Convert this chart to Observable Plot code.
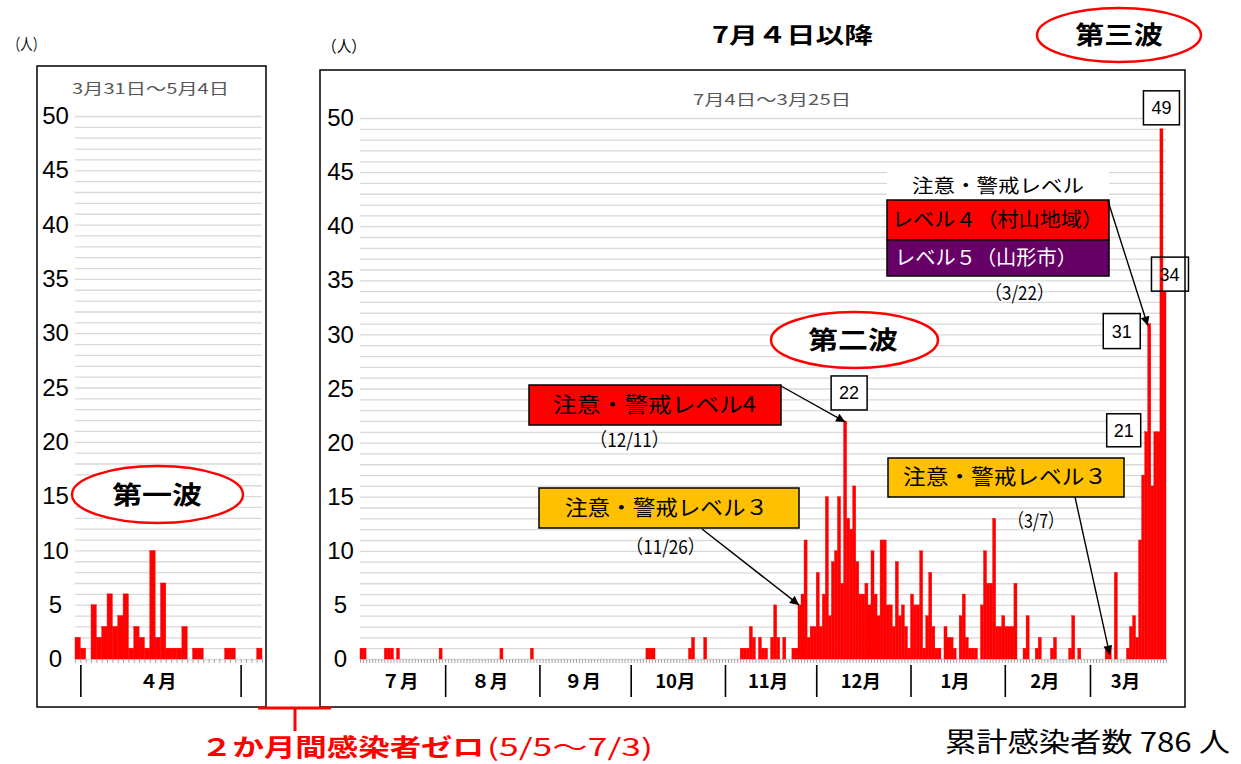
<!DOCTYPE html>
<html><head><meta charset="utf-8">
<script src="https://cdn.jsdelivr.net/npm/d3@7"></script>
<script src="https://cdn.jsdelivr.net/npm/@observablehq/plot@0.6"></script>
<style>
body{margin:0;background:#fff;}
#wrap{position:relative;width:1241px;height:764px;overflow:hidden;background:#fff;font-family:"Noto Sans CJK JP","Noto Sans",sans-serif;}
.panel{position:absolute;}
#overlay{position:absolute;left:0;top:0;}
</style></head><body><div id="wrap"></div>
<script>
// ---------- DATA ----------
// First wave: daily cases 3/31 - 5/4 (2020)
const wave1Start = "2020-03-31";
const wave1Values = [2,1,0,5,2,3,6,3,4,6,1,3,2,1,10,2,7,1,1,1,3,0,1,1,0,0,0,0,1,1,0,0,0,0,1];
const wave1MonthBounds = ["2020-04-01","2020-05-01"];
const wave1MonthLabels = [{label:"４月", from:"2020-04-01", to:"2020-05-01"}];

// Since 7/4: daily cases by month
const julValues = [1,1,0,0,0,0,0,0,1,1,1,0,1,0,0,0,0,0,0,0,0,0,0,0,0,0,1,0];           // 7/4-7/31
const augValues = [0,0,0,0,0,0,0,0,0,0,0,0,0,0,0,0,0,0,1,0,0,0,0,0,0,0,0,0,1,0,0];       // 8/1-8/31
const sepValues = [0,0,0,0,0,0,0,0,0,0,0,0,0,0,0,0,0,0,0,0,0,0,0,0,0,0,0,0,0,0];         // 9/1-9/30
const octValues = [0,0,0,0,0,1,1,1,0,0,0,0,0,0,0,0,0,0,0,1,2,0,0,0,2,0,0,0,0,0,0];       // 10/1-10/31
const novValues = [0,0,0,0,0,1,1,1,3,2,0,2,1,1,0,2,5,2,0,2,0,0,1,1,5,6,11,2,3,3];        // 11/1-11/30
const decValues = [8,3,6,15,4,9,10,15,7,22,13,12,16,9,6,6,7,5,10,6,4,11,11,5,5,3,9,4,5,3,1]; // 12/1-12/31
const janValues = [6,5,5,10,1,4,8,3,1,1,0,3,2,2,1,0,4,6,2,1,1,1,0,5,10,7,7,13,3,3,4];    // 1/1-1/31
const febValues = [3,3,3,7,0,0,1,4,0,0,1,2,0,0,0,1,2,0,0,0,0,1,4,0,1,0,0,0];            // 2/1-2/28
const marValues = [0,0,0,0,0,1,1,0,8,0,0,0,1,3,4,2,11,17,21,31,16,21,21,49,34];         // 3/1-3/25

const monthStarts = ["2020-07-04","2020-08-01","2020-09-01","2020-10-01","2020-11-01","2020-12-01","2021-01-01","2021-02-01","2021-03-01"];
const monthLabels = ["７月","８月","９月","10月","11月","12月","1月","2月","3月"];
const periodEnd = "2021-03-26";

const yTicks = [0,5,10,15,20,25,30,35,40,45,50];
const totalText = "累計感染者数 786 人";

// ---------- helpers ----------
const D = s => new Date(s + "T00:00:00Z");
const series = (start, values) => values.map((v, i) => ({date: d3.utcDay.offset(D(start), i), value: v}));

const wave1Data = series(wave1Start, wave1Values);
const monthValues = [julValues,augValues,sepValues,octValues,novValues,decValues,janValues,febValues,marValues];
const periodData = monthValues.flatMap((vals, i) => series(monthStarts[i], vals));

const monthSegs = monthStarts.map((s, i) => ({
  label: monthLabels[i],
  mid: new Date((+D(s) + +D(i < monthStarts.length - 1 ? monthStarts[i+1] : periodEnd)) / 2)
}));
const periodBounds = monthStarts.slice(1).map(D);
const wave1Segs = wave1MonthLabels.map(m => ({label: m.label, mid: new Date((+D(m.from) + +D(m.to)) / 2)}));

const numFont = '"Liberation Sans", Arial, sans-serif';
const jpFont = '"Noto Sans CJK JP", sans-serif';

function panel({data, start, end, bounds, segs, width, height, margins}) {
  const days = d3.utcDay.range(D(start), d3.utcDay.offset(D(end), 1));
  return Plot.plot({
    width, height,
    marginLeft: margins[0], marginRight: margins[1], marginTop: margins[2], marginBottom: margins[3],
    style: {background: "none", overflow: "visible", fontFamily: numFont},
    x: {type: "utc", domain: [D(start), D(end)], label: null},
    y: {domain: [0, 50], label: null},
    marks: [
      Plot.gridY(d3.range(0, 51, 1), {stroke: "#d9d9d9", strokeOpacity: 1, strokeWidth: 1.3}),
      Plot.rectY(data, {x: "date", y: "value", interval: "day", fill: "#ff0000", stroke: "#ff0000", strokeWidth: 0.4, inset: 0}),
      Plot.axisY(yTicks, {tickSize: 0, tickPadding: 20, textAnchor: "middle", fontSize: 24, fill: "#000", label: null, fontFamily: numFont}),
      Plot.axisX(days, {tickSize: 4, tickFormat: () => "", stroke: "#a6a6a6", label: null}),
      Plot.axisX(bounds, {tickSize: 32, dy: 6, tickFormat: () => "", stroke: "#000", strokeWidth: 1.6, label: null}),
      Plot.text(segs, {x: "mid", text: "label", frameAnchor: "bottom", dy: 28, dx: -3, fontSize: 18.5, fontWeight: "bold", fontFamily: jpFont, fill: "#000"})
    ]
  });
}

const leftChart = panel({data: wave1Data, start: "2020-03-31", end: "2020-05-05", bounds: wave1MonthBounds.map(D), segs: wave1Segs,
  width: 229, height: 641, margins: [38, 4, 50, 48]});
const rightChart = panel({data: periodData, start: "2020-07-04", end: periodEnd, bounds: periodBounds, segs: monthSegs,
  width: 865, height: 637, margins: [40, 19, 48, 48]});

const wrap = document.getElementById("wrap");
const L = [37, 66], R = [320, 70];
leftChart.classList.add("panel"); leftChart.style.left = L[0] + "px"; leftChart.style.top = L[1] + "px";
rightChart.classList.add("panel"); rightChart.style.left = R[0] + "px"; rightChart.style.top = R[1] + "px";
wrap.appendChild(leftChart); wrap.appendChild(rightChart);

// positions from the right panel's scales
const xs = rightChart.scale("x"), ys = rightChart.scale("y");
const X = d => R[0] + xs.apply(d);
const Xc = s => X(new Date(+D(s) + 12 * 3600e3));
const Y = v => R[1] + ys.apply(v);
const val = s => periodData.find(d => +d.date === +D(s)).value;

// ---------- overlay ----------
const svg = d3.select(wrap).append("svg").attr("id", "overlay").attr("width", 1241).attr("height", 764);
svg.append("defs").append("marker").attr("id", "ah").attr("viewBox", "0 0 10 10").attr("refX", 10).attr("refY", 5)
  .attr("markerWidth", 11).attr("markerHeight", 9).attr("markerUnits", "userSpaceOnUse").attr("orient", "auto")
  .append("path").attr("d", "M0,0 L10,5 L0,10 z").attr("fill", "#000");

// frames
svg.append("rect").attr("x", L[0]).attr("y", L[1]).attr("width", 229).attr("height", 641).attr("fill", "none").attr("stroke", "#000").attr("stroke-width", 1.5);
svg.append("rect").attr("x", R[0]).attr("y", R[1]).attr("width", 865).attr("height", 637).attr("fill", "none").attr("stroke", "#000").attr("stroke-width", 1.5);

function T(str, x, y, {size = 16, weight = "normal", fill = "#000", width = null, family = jpFont} = {}) {
  const t = svg.append("text").attr("x", x).attr("y", y).text(str)
    .attr("font-size", size).attr("font-weight", weight).attr("fill", fill).attr("font-family", family);
  if (width) t.attr("textLength", width).attr("lengthAdjust", "spacingAndGlyphs");
  return t;
}
function box(x, y, w, h, fill) {
  svg.append("rect").attr("x", x).attr("y", y).attr("width", w).attr("height", h).attr("fill", fill).attr("stroke", "#000").attr("stroke-width", 1.5);
}
function ellipse(cx, cy, rx, ry) {
  svg.append("ellipse").attr("cx", cx).attr("cy", cy).attr("rx", rx).attr("ry", ry).attr("fill", "#fff").attr("stroke", "#ff0000").attr("stroke-width", 2.5);
}
function arrow(x1, y1, x2, y2) {
  svg.append("line").attr("x1", x1).attr("y1", y1).attr("x2", x2).attr("y2", y2).attr("stroke", "#000").attr("stroke-width", 1.4).attr("marker-end", "url(#ah)");
}
function valueBox(str, cx, top, w = 36, h = 34, fill = "#fff") {
  svg.append("rect").attr("x", cx - w / 2).attr("y", top).attr("width", w).attr("height", h).attr("fill", fill).attr("stroke", "#000").attr("stroke-width", 1.5);
  T(str, cx, top + h / 2 + 6.5, {size: 18, family: numFont}).attr("text-anchor", "middle");
}

// units
T("（人）", 8, 50, {size: 16, width: 37});
T("（人）", 322, 52, {size: 16, width: 44});
// subtitles
T("3月31日～5月4日", 72, 94, {size: 15, fill: "#595959", width: 157});
T("7月4日～3月25日", 693, 105, {size: 15, fill: "#595959", width: 158});
// title
T("7月４日以降", 712, 43, {size: 22, weight: "bold", width: 161});

// waves
ellipse(1119, 35, 82, 27); T("第三波", 1075, 44, {size: 25, weight: "bold", width: 88});
ellipse(854.5, 340, 83.5, 28); T("第二波", 808, 349, {size: 25, weight: "bold", width: 90});
ellipse(157.5, 494.5, 85.5, 28.5); T("第一波", 112, 504, {size: 25, weight: "bold", width: 90});

// level 4 (12/11)
box(529, 385, 252, 40, "#ff0000");
T("注意・警戒レベル4", 553, 412, {size: 21, width: 203});
T("（12/11）", 590, 447, {size: 19, width: 79});
arrow(781, 386, Xc("2020-12-10"), Y(val("2020-12-10")) + 1);

// level 3 (11/26)
box(539, 488, 260, 40, "#ffc000");
T("注意・警戒レベル３", 565, 515, {size: 21, width: 203});
T("（11/26）", 626, 554, {size: 19, width: 79});
arrow(702, 529, X(D("2020-11-26")) - 2, Y(5));

// level 3 (3/7)
box(888, 458, 236, 39, "#ffc000");
T("注意・警戒レベル３", 903, 484, {size: 21, width: 204});
T("（3/7）", 1008, 528, {size: 19, width: 56});
arrow(1075, 497, Xc("2021-03-07"), Y(0.4));

// level 4 / 5 (3/22)
svg.append("rect").attr("x", 887).attr("y", 170).attr("width", 222).attr("height", 29).attr("fill", "#fff");
T("注意・警戒レベル", 912, 193, {size: 19, width: 172});
box(887, 200, 222, 40, "#ff0000");
T("レベル４（村山地域）", 892, 227, {size: 20, width: 211});
box(887, 240, 222, 36, "#660066");
T("レベル５（山形市）", 895, 265, {size: 20, fill: "#fff", width: 182});
T("（3/22）", 985, 300, {size: 19, width: 69});
arrow(1108, 201, X(D("2021-03-20")), Y(val("2021-03-20")) + 2);

// value boxes
valueBox(String(val("2020-12-10")), Xc("2020-12-10") + 4, Y(val("2020-12-10")) - 45);
valueBox(String(val("2021-03-24")), Xc("2021-03-24"), Y(val("2021-03-24")) - 38);
valueBox(String(val("2021-03-20")), X(D("2021-03-20")) - 26, Y(val("2021-03-20")) - 10, 37, 35);
valueBox(String(val("2021-03-19")), X(D("2021-03-19")) - 21, Y(val("2021-03-19")) - 18, 34, 33);
// 34 box (transparent so the 49 bar shows through)
(function () {
  const cx = Xc("2021-03-25") + 5, top = Y(val("2021-03-25")) - 34;
  svg.append("rect").attr("x", cx - 18).attr("y", top).attr("width", 37).attr("height", 34).attr("fill", "none").attr("stroke", "#000").attr("stroke-width", 1.5);
  T(String(val("2021-03-25")), cx, top + 23.5, {size: 18, family: numFont}).attr("text-anchor", "middle");
})();

// zero period bracket
svg.append("path").attr("d", "M258,708 H331 M295,708 V731").attr("stroke", "#ff0000").attr("stroke-width", 3).attr("fill", "none");
T("２か月間感染者ゼロ", 201, 756, {size: 24, weight: "bold", fill: "#ff0000", width: 283});
T("(5/5～7/3)", 487, 756, {size: 24, fill: "#ff0000", width: 166});

// total
T(totalText, 945, 752, {size: 27, width: 285});
</script></body></html>
